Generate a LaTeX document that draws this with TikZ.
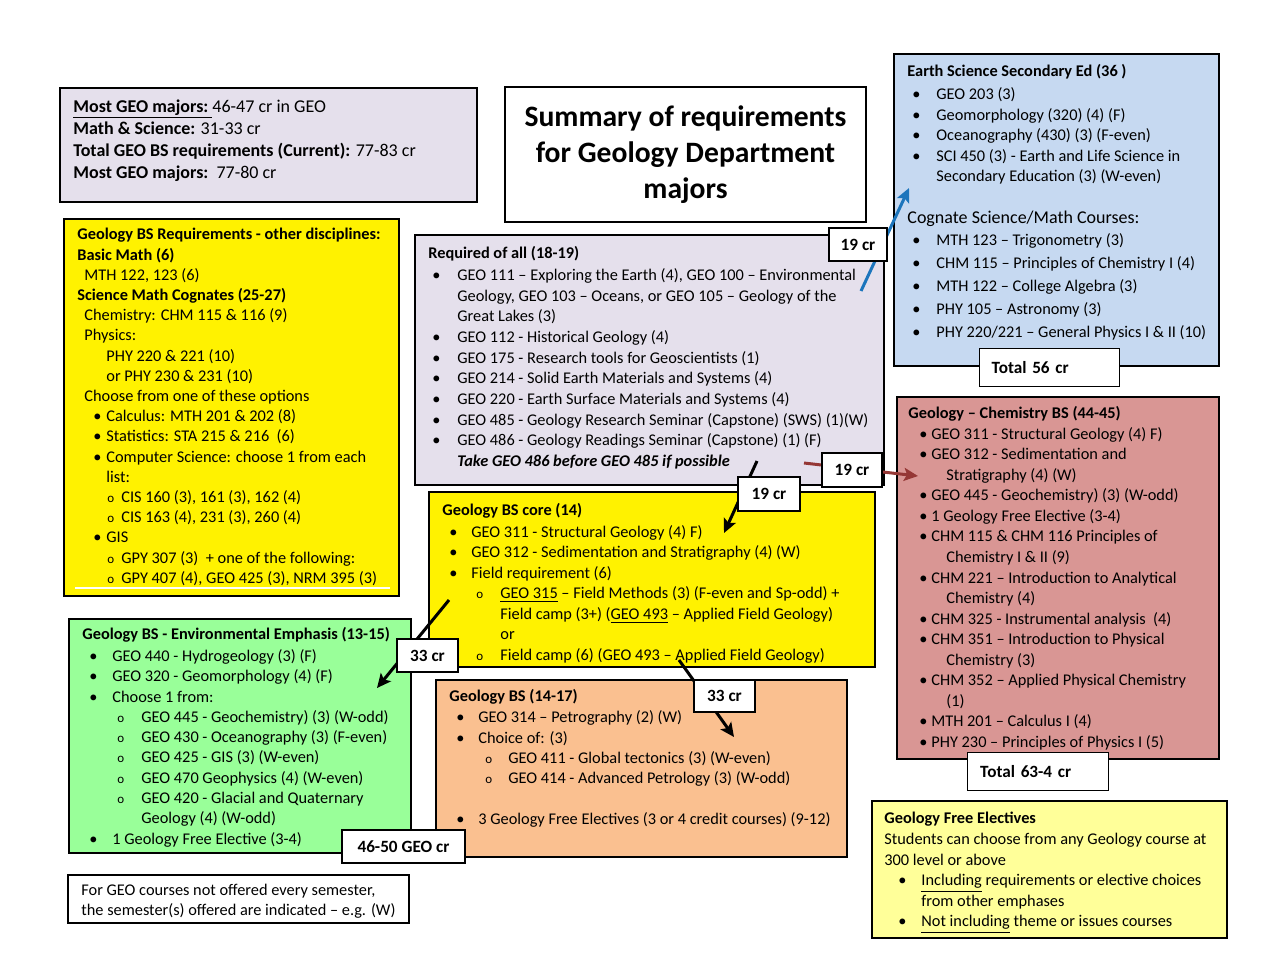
\documentclass[tikz,border=0pt]{standalone}
\usepackage{fontspec}
\setmainfont{Carlito}
\usepackage{xcolor}
\usepackage{tikz}
\usetikzlibrary{arrows.meta,positioning}

\definecolor{lavbg}{HTML}{E5E0EC}
\definecolor{skybg}{HTML}{C6D9F1}
\definecolor{rosebg}{HTML}{D99694}
\definecolor{mintbg}{HTML}{99FF99}
\definecolor{peachbg}{HTML}{FAC090}
\definecolor{lemonbg}{HTML}{FFFF99}
\definecolor{arrblue}{HTML}{1C75BC}
\definecolor{arrred}{HTML}{953735}

% bullet / sub-bullet: #1 offset of the mark, #2 offset of the text
\newcommand{\bu}[2]{\makebox[#2][l]{\hspace*{#1}\textbullet}}
\newcommand{\ob}[2]{\makebox[#2][l]{\hspace*{#1}{\fontsize{6.5pt}{7pt}\selectfont o}}}

\begin{document}
\begin{tikzpicture}[x=0.5pt, y=-0.5pt, >={Stealth[length=7pt,width=6.5pt,inset=1.5pt]},
  panel/.style={draw, line width=0.7pt, anchor=north west, inner sep=0pt, outer sep=0pt},
  body/.style={anchor=north west, inner sep=0pt, align=left, font=\fontsize{8.17pt}{10.25pt}\selectfont},
  crbox/.style={draw, fill=white, line width=0.7pt, inner sep=0pt, font=\fontsize{8.6pt}{9pt}\selectfont\bfseries},
  totbox/.style={crbox, anchor=north west, minimum height=19pt, align=left, text width=58pt, inner xsep=6pt},
  link/.style={->, line width=1.5pt}]
\useasboundingbox (0,0) rectangle (1277,975);

% boxes
\node[panel, fill=lavbg, minimum width=208.5pt, minimum height=57pt] (summary) at (60,88) {};
\node[panel, fill=white, minimum width=180.5pt, minimum height=67.5pt] (title) at (505,87) {};
\node[panel, fill=yellow, minimum width=167.5pt, minimum height=188.5pt] (other) at (64,219) {};
\node[panel, fill=lavbg, minimum width=234.5pt, minimum height=125pt] (reqall) at (415,235) {};
\node[panel, fill=skybg, minimum width=162.5pt, minimum height=156pt] (earth) at (894,54) {};
\node[panel, fill=rosebg, minimum width=161pt, minimum height=181pt] (chem) at (897,397) {};
\node[panel, fill=yellow, minimum width=223pt, minimum height=87.5pt] (core) at (429,492) {};
\node[panel, fill=mintbg, minimum width=171pt, minimum height=117pt] (env) at (69,619) {};
\node[panel, fill=peachbg, minimum width=205.5pt, minimum height=88.5pt] (bs) at (436,680) {};
\node[panel, fill=white, minimum width=170.5pt, minimum height=24pt] (note) at (68,875) {};
\node[panel, fill=lemonbg, minimum width=177.5pt, minimum height=68.5pt] (free) at (872,801) {};
\draw[white, line width=1pt] (75,588) -- (390,588);

% texts
\node[body, font=\fontsize{9pt}{11pt}\selectfont] (summarytxt) at (73,99) {%
\underline{\textbf{Most GEO majors:}\ }46-47 cr in GEO\\
\textbf{Math \& Science:} 31-33 cr\\
\textbf{Total GEO BS requirements (Current):} 77-83 cr\\
\textbf{Most GEO majors:}\ \ 77-80 cr};

\node[align=center, font=\fontsize{14.8pt}{18pt}\selectfont\bfseries] (titletxt) at (title.center) {%
Summary of requirements\\for Geology Department\\majors};

\node[body, font=\fontsize{8.17pt}{10.1pt}\selectfont] (othertxt) at (77,228) {%
\textbf{Geology BS Requirements - other disciplines:}\\
\textbf{Basic Math (6)}\\
\hspace*{3.5pt}MTH 122, 123 (6)\\
\textbf{Science Math Cognates (25-27)}\\
\hspace*{3.5pt}Chemistry: CHM 115 \& 116 (9)\\
\hspace*{3.5pt}Physics:\\
\hspace*{14.5pt}PHY 220 \& 221 (10)\\
\hspace*{14.5pt}or PHY 230 \& 231 (10)\\
\hspace*{3.5pt}Choose from one of these options\\
\bu{8pt}{14.5pt}Calculus: MTH 201 \& 202 (8)\\
\bu{8pt}{14.5pt}Statistics: STA 215 \& 216\ \ (6)\\
\bu{8pt}{14.5pt}Computer Science: choose 1 from each\\
\hspace*{14.5pt}list:\\
\ob{15pt}{22pt}CIS 160 (3), 161 (3), 162 (4)\\
\ob{15pt}{22pt}CIS 163 (4), 231 (3), 260 (4)\\
\bu{8pt}{14.5pt}GIS\\
\ob{15pt}{22pt}GPY 307 (3)\ \ + one of the following:\\
\ob{15pt}{22pt}GPY 407 (4), GEO 425 (3), NRM 395 (3)};

\node[body, font=\fontsize{8.17pt}{10.33pt}\selectfont] (reqalltxt) at (428,246) {%
\textbf{Required of all (18-19)}\\[0.7pt]
\bu{2pt}{14.5pt}GEO 111 -- Exploring the Earth (4), GEO 100 -- Environmental\\
\hspace*{14.5pt}Geology, GEO 103 -- Oceans, or GEO 105 -- Geology of the\\
\hspace*{14.5pt}Great Lakes (3)\\
\bu{2pt}{14.5pt}GEO 112 - Historical Geology (4)\\
\bu{2pt}{14.5pt}GEO 175 - Research tools for Geoscientists (1)\\
\bu{2pt}{14.5pt}GEO 214 - Solid Earth Materials and Systems (4)\\
\bu{2pt}{14.5pt}GEO 220 - Earth Surface Materials and Systems (4)\\
\bu{2pt}{14.5pt}GEO 485 - Geology Research Seminar (Capstone) (SWS) (1)(W)\\
\bu{2pt}{14.5pt}GEO 486 - Geology Readings Seminar (Capstone) (1) (F)\\
\hspace*{14.5pt}\textbf{\textit{Take GEO 486 before GEO 485 if possible}}};

\node[body] (earthtxt) at (907,64) {%
\textbf{Earth Science Secondary Ed (36 )}\\[1.25pt]
\bu{2.5pt}{14.5pt}GEO 203 (3)\\
\bu{2.5pt}{14.5pt}Geomorphology (320) (4) (F)\\
\bu{2.5pt}{14.5pt}Oceanography (430) (3) (F-even)\\
\bu{2.5pt}{14.5pt}SCI 450 (3) - Earth and Life Science in\\
\hspace*{14.5pt}Secondary Education (3) (W-even)\\[10.75pt]
{\fontsize{9pt}{10.25pt}\selectfont Cognate Science/Math Courses:}\\[0.75pt]
\bu{2.5pt}{14.5pt}MTH 123 -- Trigonometry (3)\\[1.25pt]
\bu{2.5pt}{14.5pt}CHM 115 -- Principles of Chemistry I (4)\\[1.25pt]
\bu{2.5pt}{14.5pt}MTH 122 -- College Algebra (3)\\[1.25pt]
\bu{2.5pt}{14.5pt}PHY 105 -- Astronomy (3)\\[1.25pt]
\bu{2.5pt}{14.5pt}PHY 220/221 -- General Physics I \& II (10)};

\node[body, font=\fontsize{8.17pt}{10.28pt}\selectfont] (chemtxt) at (908,406) {%
\textbf{Geology -- Chemistry BS (44-45)}\\
\bu{5.5pt}{11.5pt}GEO 311 - Structural Geology (4) F)\\
\bu{5.5pt}{11.5pt}GEO 312 - Sedimentation and\\
\hspace*{19pt}Stratigraphy (4) (W)\\
\bu{5.5pt}{11.5pt}GEO 445 - Geochemistry) (3) (W-odd)\\
\bu{5.5pt}{11.5pt}1 Geology Free Elective (3-4)\\
\bu{5.5pt}{11.5pt}CHM 115 \& CHM 116 Principles of\\
\hspace*{19pt}Chemistry I \& II (9)\\
\bu{5.5pt}{11.5pt}CHM 221 -- Introduction to Analytical\\
\hspace*{19pt}Chemistry (4)\\
\bu{5.5pt}{11.5pt}CHM 325 - Instrumental analysis\ \ (4)\\
\bu{5.5pt}{11.5pt}CHM 351 -- Introduction to Physical\\
\hspace*{19pt}Chemistry (3)\\
\bu{5.5pt}{11.5pt}CHM 352 -- Applied Physical Chemistry\\
\hspace*{19pt}(1)\\
\bu{5.5pt}{11.5pt}MTH 201 -- Calculus I (4)\\
\bu{5.5pt}{11.5pt}PHY 230 -- Principles of Physics I (5)};

\node[body] (coretxt) at (442,503) {%
\textbf{Geology BS core (14)}\\[0.6pt]
\bu{3.5pt}{14.5pt}GEO 311 - Structural Geology (4) F)\\
\bu{3.5pt}{14.5pt}GEO 312 - Sedimentation and Stratigraphy (4) (W)\\
\bu{3.5pt}{14.5pt}Field requirement (6)\\
\hspace*{14.5pt}\ob{2.5pt}{14.5pt}\underline{GEO 315} -- Field Methods (3) (F-even and Sp-odd) +\\
\hspace*{29pt}Field camp (3+) (\underline{GEO 493} -- Applied Field Geology)\\
\hspace*{29pt}or\\
\hspace*{14.5pt}\ob{2.5pt}{14.5pt}Field camp (6) (GEO 493 -- Applied Field Geology)};

\node[body, font=\fontsize{8.17pt}{10.15pt}\selectfont] (envtxt) at (82,627) {%
\textbf{Geology BS - Environmental Emphasis (13-15)}\\[0.8pt]
\bu{3.5pt}{15pt}GEO 440 - Hydrogeology (3) (F)\\
\bu{3.5pt}{15pt}GEO 320 - Geomorphology (4) (F)\\
\bu{3.5pt}{15pt}Choose 1 from:\\
\hspace*{15pt}\ob{2.5pt}{14.5pt}GEO 445 - Geochemistry) (3) (W-odd)\\
\hspace*{15pt}\ob{2.5pt}{14.5pt}GEO 430 - Oceanography (3) (F-even)\\
\hspace*{15pt}\ob{2.5pt}{14.5pt}GEO 425 - GIS (3) (W-even)\\
\hspace*{15pt}\ob{2.5pt}{14.5pt}GEO 470 Geophysics (4) (W-even)\\
\hspace*{15pt}\ob{2.5pt}{14.5pt}GEO 420 - Glacial and Quaternary\\
\hspace*{29.5pt}Geology (4) (W-odd)\\
\bu{3.5pt}{15pt}1 Geology Free Elective (3-4)};

\node[body, font=\fontsize{8.17pt}{10.17pt}\selectfont] (bstxt) at (449,689) {%
\textbf{Geology BS (14-17)}\\[0.5pt]
\bu{3.5pt}{14.5pt}GEO 314 -- Petrography (2) (W)\\
\bu{3.5pt}{14.5pt}Choice of: (3)\\
\hspace*{14.5pt}\ob{3.5pt}{15pt}GEO 411 - Global tectonics (3) (W-even)\\
\hspace*{14.5pt}\ob{3.5pt}{15pt}GEO 414 - Advanced Petrology (3) (W-odd)\\[10.17pt]
\bu{3.5pt}{14.5pt}3 Geology Free Electives (3 or 4 credit courses) (9-12)};

\node[body, font=\fontsize{8.17pt}{10pt}\selectfont] (notetxt) at (81,884) {%
For GEO courses not offered every semester,\\
the semester(s) offered are indicated -- e.g. (W)};

\node[body, font=\fontsize{8.17pt}{10.3pt}\selectfont] (freetxt) at (884,812) {%
\textbf{Geology Free Electives}\\
Students can choose from any Geology course at\\
300 level or above\\
\bu{7pt}{18.5pt}\underline{Including} requirements or elective choices\\
\hspace*{18.5pt}from other emphases\\
\bu{7pt}{18.5pt}\underline{Not including} theme or issues courses};

% arrow ends
\coordinate (esFrom) at (861,291);
\coordinate (esTo) at (909,188);
\coordinate (chFrom) at (804,463);
\coordinate (chTo) at (918,476);
\coordinate (coFrom) at (757,461);
\coordinate (coTo) at (724,533);
\coordinate (enFrom) at (449,600);
\coordinate (enTo) at (377,688);
\coordinate (bsFrom) at (679,660);
\coordinate (bsTo) at (734,737);

\draw[link, arrblue] (esFrom) -- (esTo);
\draw[link, arrred] (chFrom) -- (chTo);
\draw[link] (coFrom) -- (coTo);
\draw[link] (enFrom) -- (enTo);
\draw[link] (bsFrom) -- (bsTo);

% credit labels
\node[crbox, minimum width=29pt, minimum height=16.5pt] (esCr) at (858,244.5) {19 cr};
\node[crbox, minimum width=30pt, minimum height=17pt] (chCr) at (852,470) {19 cr};
\node[crbox, minimum width=31pt, minimum height=17pt] (coCr) at (769,494) {19 cr};
\node[crbox, minimum width=30.5pt, minimum height=16.5pt] (enCr) at (427.5,655.5) {33 cr};
\node[crbox, minimum width=30.5pt, minimum height=16pt] (bsCr) at (724.5,696) {33 cr};
\node[crbox, minimum width=61.5pt, minimum height=16.5pt] (geoCr) at (403.5,846.5) {46-50 GEO cr};
\node[totbox] (tot56) at (979,348) {Total 56 cr};
\node[totbox, minimum width=70.5pt] (tot63) at (967,752) {Total 63-4 cr};
\end{tikzpicture}
\end{document}
